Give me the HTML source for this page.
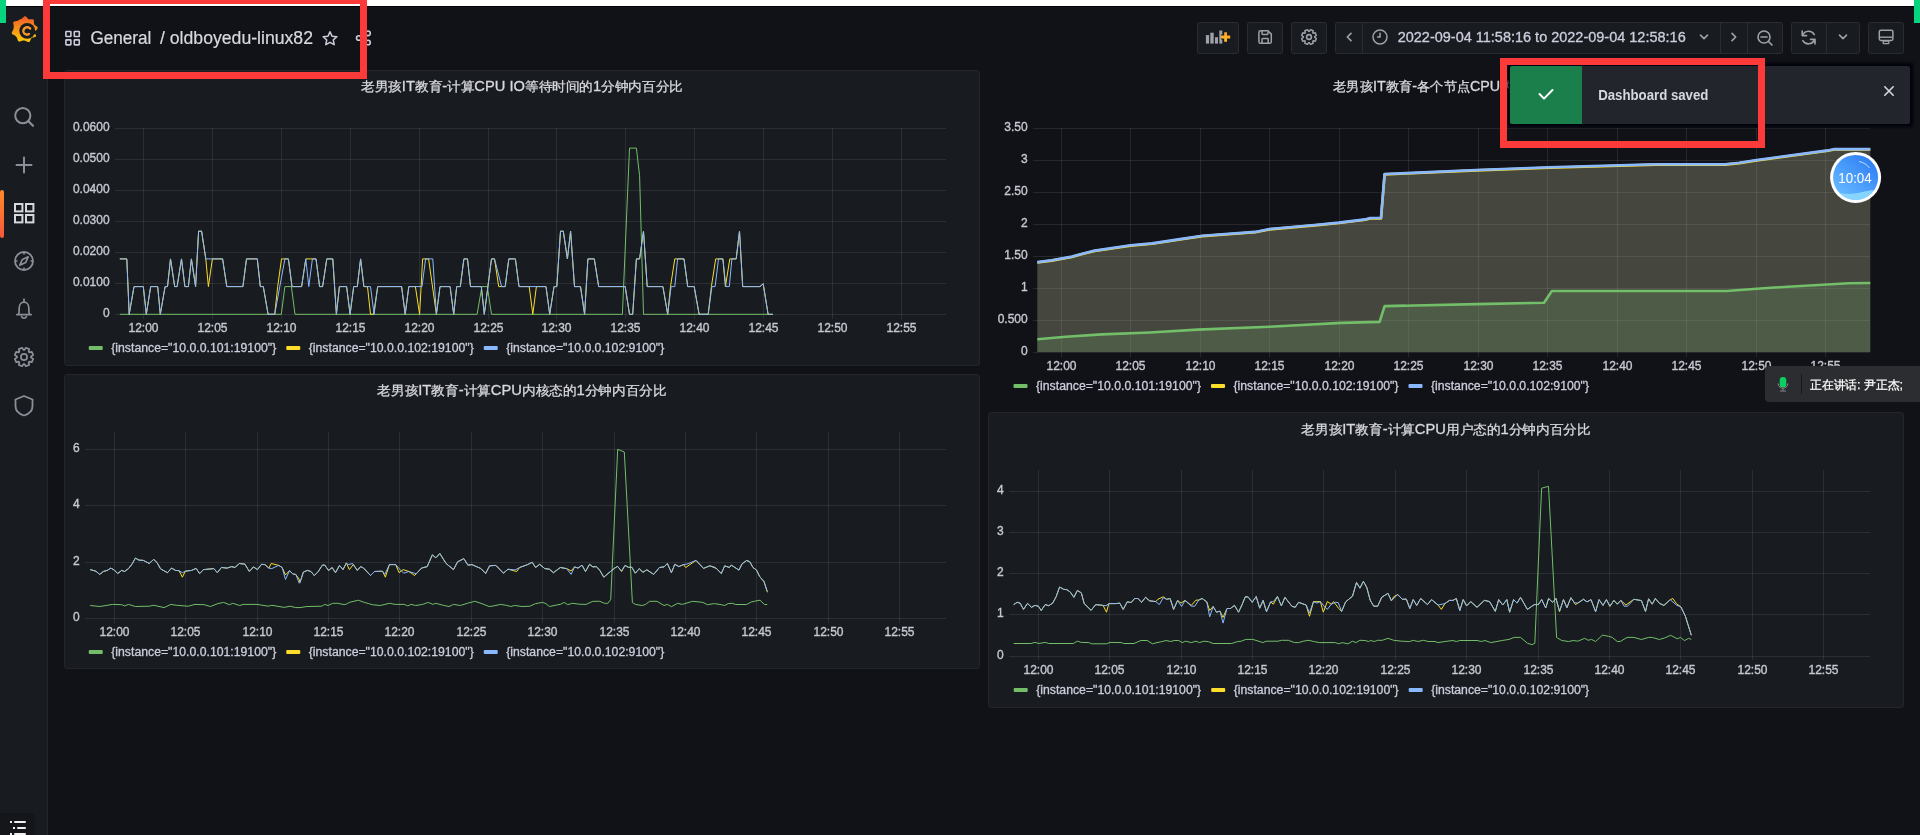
<!DOCTYPE html><html><head><meta charset="utf-8"><style>
html,body{margin:0;padding:0;background:#111217;width:1920px;height:835px;overflow:hidden;font-family:"Liberation Sans",sans-serif;}
.abs{position:absolute;}
svg{position:absolute;left:0;top:0;overflow:visible;will-change:transform}
svg text{font-family:"Liberation Sans",sans-serif}
</style></head><body>
<div class="abs" style="left:0;top:0;width:47px;height:835px;background:#181b1f;border-right:1px solid #24262c"></div>
<svg width="47" height="835" viewBox="0 0 47 835" style="left:0;top:0"><defs><linearGradient id="glogo" x1="0" y1="0" x2="0" y2="1">
<stop offset="0" stop-color="#f05a28"/><stop offset="1" stop-color="#fbca0a"/></linearGradient>
<linearGradient id="actbar" x1="0" y1="0" x2="0" y2="1"><stop offset="0" stop-color="#ff8a2a"/><stop offset="1" stop-color="#f5583a"/></linearGradient></defs><path d="M13.29,29.50 L13.37,29.21 L13.43,28.92 L13.48,28.63 L13.53,28.35 L13.58,28.06 L13.62,27.78 L13.66,27.49 L13.70,27.20 L13.73,26.92 L13.76,26.62 L13.78,26.32 L13.77,26.02 L13.75,25.69 L13.70,25.35 L13.63,25.00 L13.53,24.62 L13.43,24.22 L13.33,23.81 L13.26,23.40 L13.23,22.99 L13.26,22.61 L13.36,22.27 L13.54,21.97 L13.80,21.73 L14.12,21.54 L14.50,21.40 L14.90,21.30 L15.32,21.23 L15.73,21.18 L16.12,21.12 L16.49,21.06 L16.83,20.99 L17.15,20.90 L17.44,20.79 L17.72,20.67 L17.98,20.53 L18.24,20.39 L18.49,20.25 L18.74,20.11 L19.00,19.97 L19.25,19.83 L19.51,19.70 L19.76,19.57 L20.02,19.45 L20.29,19.33 L20.55,19.21 L20.82,19.10 L21.08,18.98 L21.35,18.86 L21.61,18.72 L21.88,18.57 L22.14,18.39 L22.40,18.18 L22.67,17.94 L22.94,17.68 L23.23,17.39 L23.52,17.09 L23.83,16.81 L24.16,16.56 L24.50,16.36 L24.85,16.25 L25.20,16.22 L25.54,16.28 L25.87,16.44 L26.19,16.67 L26.49,16.95 L26.77,17.26 L27.03,17.59 L27.28,17.90 L27.53,18.20 L27.77,18.46 L28.01,18.70 L28.25,18.90 L28.50,19.08 L28.75,19.25 L29.04,19.31 L29.34,19.35 L29.66,19.38 L29.99,19.38 L30.35,19.37 L30.73,19.33 L31.13,19.29 L31.55,19.24 L31.97,19.22 L32.38,19.23 L32.77,19.29 L33.11,19.42 L33.40,19.62 L33.63,19.88 L33.79,20.21 L33.89,20.59 L33.94,21.00 L33.96,21.42 L33.96,21.84 L33.96,22.24 L33.97,22.62 L33.99,22.98 L34.03,23.31 L34.09,23.63 L34.16,23.92 L34.25,24.20 L34.40,24.45 L34.59,24.69 L34.80,24.91 L35.04,25.14 L35.30,25.35 L35.60,25.57 L35.92,25.79 L36.26,26.02 L36.61,26.26 L36.94,26.51 L37.23,26.79 L37.46,27.10 L37.62,27.42 L37.68,27.76 L37.65,28.12 L37.54,28.47 L37.35,28.83 L37.12,29.17 L36.86,29.50 L36.59,29.82 L36.33,30.12 L36.10,30.41 L35.89,30.70 L35.72,30.98 L35.57,31.25 L35.45,31.53 L35.37,31.81 L35.37,32.11 L35.39,32.42 L35.44,32.74 L35.50,33.08 L35.60,33.43 L35.71,33.80 L35.83,34.19 L35.95,34.60 L36.05,35.01 L36.10,35.41 L36.09,35.79 L36.00,36.14 L35.84,36.45 L35.59,36.70 L35.28,36.91 L34.91,37.07 L34.51,37.18 L34.10,37.28 L33.69,37.35 L33.30,37.43 L32.94,37.51 L32.60,37.60 L32.29,37.71 L32.00,37.83 L31.73,37.97 L31.50,38.14 L31.31,38.37 L31.13,38.62 L30.96,38.90 L30.80,39.20 L30.65,39.54 L30.50,39.90 L30.35,40.28 L30.19,40.67 L30.01,41.05 L29.79,41.39 L29.55,41.68 L29.26,41.90 L28.94,42.03 L28.59,42.08 L28.21,42.04 L27.83,41.93 L27.45,41.77 L27.07,41.59 L26.70,41.39 L26.35,41.20 L26.02,41.03 L25.70,40.89 L25.39,40.78 L25.09,40.70 L24.79,40.63 L24.50,40.58 L24.21,40.55 L23.92,40.51 L23.63,40.52 L23.34,40.52 L23.05,40.54 L22.75,40.57 L22.44,40.63 L22.12,40.70 L21.78,40.81 L21.43,40.94 L21.07,41.09 L20.68,41.25 L20.29,41.40 L19.89,41.52 L19.50,41.58 L19.12,41.58 L18.78,41.50 L18.47,41.33 L18.21,41.09 L17.99,40.77 L17.82,40.41 L17.67,40.01 L17.55,39.61 L17.44,39.21 L17.33,38.84 L17.22,38.49 L17.09,38.17 L16.95,37.88 L16.80,37.61 L16.64,37.36 L16.47,37.12 L16.29,36.89 L16.12,36.66 L15.92,36.45 L15.72,36.24 L15.51,36.03 L15.28,35.83 L15.04,35.64 L14.78,35.46 L14.48,35.28 L14.16,35.12 L13.80,34.95 L13.43,34.78 L13.05,34.60 L12.68,34.39 L12.35,34.16 L12.07,33.90 L11.87,33.60 L11.75,33.28 L11.73,32.92 L11.78,32.55 L11.91,32.18 L12.09,31.80 L12.30,31.43 L12.51,31.08 L12.72,30.74 L12.90,30.41 L13.06,30.10 L13.19,29.80Z" fill="url(#glogo)"/><circle cx="27.2" cy="30.8" r="7.9" fill="#181b1f"/><path d="M27.20,30.80 L41.20,30.80 L41.18,31.53 L41.12,32.26 L41.03,32.99 L40.89,33.71 L40.72,34.42 L40.51,35.13 L40.27,35.82 L39.99,36.49Z" fill="#181b1f"/><path d="M30.16,28.53 L29.84,28.21 L29.48,27.93 L29.10,27.69 L28.69,27.50 L28.26,27.35 L27.83,27.26 L27.38,27.22 L26.94,27.22 L26.50,27.28 L26.07,27.39 L25.66,27.55 L25.27,27.75 L24.91,27.99 L24.58,28.27 L24.28,28.59 L24.03,28.93 L23.81,29.30 L23.64,29.70 L23.52,30.10 L23.45,30.52 L23.42,30.94 L23.44,31.36 L23.51,31.78 L23.62,32.18 L23.78,32.56 L23.98,32.92 L24.22,33.26 L24.50,33.56 L24.81,33.83 L25.14,34.06 L25.50,34.25 L25.87,34.40 L26.26,34.50 L26.66,34.56 L27.05,34.57 L27.45,34.54 L27.84,34.47 L28.21,34.35 L28.57,34.18 L28.90,33.98" fill="none" stroke="#f9962a" stroke-width="2.4" stroke-linecap="round"/><circle cx="22.8" cy="115.6" r="7.6" fill="none" stroke="#8e8e99" stroke-width="2"/><path d="M28.4,121.2 L33,125.8" stroke="#8e8e99" stroke-width="2.2" stroke-linecap="round"/><path d="M24,157.5 V172.5 M16.5,165 H31.5" stroke="#8e8e99" stroke-width="2" stroke-linecap="round"/><rect x="0" y="190" width="4" height="48" rx="2" fill="url(#actbar)"/><rect x="15" y="204" width="7.4" height="7.4" fill="none" stroke="#d8d9e0" stroke-width="2"/><rect x="26" y="204" width="7.4" height="7.4" fill="none" stroke="#d8d9e0" stroke-width="2"/><rect x="15" y="215" width="7.4" height="7.4" fill="none" stroke="#d8d9e0" stroke-width="2"/><rect x="26" y="215" width="7.4" height="7.4" fill="none" stroke="#d8d9e0" stroke-width="2"/><circle cx="24" cy="261" r="9" fill="none" stroke="#8e8e99" stroke-width="1.8"/><path d="M24,252 V254.5 M24,267.5 V270 M15,261 H17.5 M30.5,261 H33" stroke="#8e8e99" stroke-width="1.6"/><path d="M28.2,256.8 L25.6,262.6 L19.8,265.2 L22.4,259.4 Z" fill="none" stroke="#8e8e99" stroke-width="1.6" stroke-linejoin="round"/><path d="M16.8,314.6 H31.2 M18.6,314.4 C19.2,312.8 19.2,310 19.2,307.8 C19.2,304.4 21.4,302.2 24,302.2 C26.6,302.2 28.8,304.4 28.8,307.8 C28.8,310 28.8,312.8 29.4,314.4 M24,299.2 V302 M21.6,316.6 A2.5,2.3 0 0 0 26.4,316.6" fill="none" stroke="#8e8e99" stroke-width="1.7" stroke-linecap="round" stroke-linejoin="round"/><path d="M30.99,357.43 L33.21,358.87 L31.84,362.19 L29.24,361.64 L28.64,362.24 L29.19,364.84 L25.87,366.21 L24.43,363.99 L23.57,363.99 L22.13,366.21 L18.81,364.84 L19.36,362.24 L18.76,361.64 L16.16,362.19 L14.79,358.87 L17.01,357.43 L17.01,356.57 L14.79,355.13 L16.16,351.81 L18.76,352.36 L19.36,351.76 L18.81,349.16 L22.13,347.79 L23.57,350.01 L24.43,350.01 L25.87,347.79 L29.19,349.16 L28.64,351.76 L29.24,352.36 L31.84,351.81 L33.21,355.13 L30.99,356.57Z" fill="none" stroke="#8e8e99" stroke-width="1.7" stroke-linejoin="round"/><circle cx="24" cy="357" r="3.1" fill="none" stroke="#8e8e99" stroke-width="1.7"/><path d="M24,396 L32.5,399.5 V406 C32.5,411 29,414 24,415.5 C19,414 15.5,411 15.5,406 V399.5 Z" fill="none" stroke="#8e8e99" stroke-width="1.8" stroke-linejoin="round"/><rect x="-4" y="813" width="39" height="30" rx="3" fill="#141619"/><rect x="10" y="821" width="2" height="2" fill="#f0f0f0"/><rect x="14" y="821" width="12" height="2" rx="1" fill="#f0f0f0"/><rect x="13" y="827" width="2" height="2" fill="#f0f0f0"/><rect x="17" y="827" width="9" height="2" rx="1" fill="#f0f0f0"/><rect x="10" y="833" width="2" height="2" fill="#f0f0f0"/><rect x="14" y="833" width="12" height="2" rx="1" fill="#f0f0f0"/></svg>
<svg width="1920" height="80" viewBox="0 0 1920 80" style="left:0;top:0"><rect x="65.9" y="31.5" width="5.0" height="5.0" rx="0.6" fill="none" stroke="#ccccdc" stroke-width="1.6"/><rect x="74.30000000000001" y="31.5" width="5.0" height="5.0" rx="0.6" fill="none" stroke="#ccccdc" stroke-width="1.6"/><rect x="65.9" y="39.9" width="5.0" height="5.0" rx="0.6" fill="none" stroke="#ccccdc" stroke-width="1.6"/><rect x="74.30000000000001" y="39.9" width="5.0" height="5.0" rx="0.6" fill="none" stroke="#ccccdc" stroke-width="1.6"/><text x="90.4" y="43.8" font-size="18" fill="#d8d9e0" text-anchor="start" font-weight="normal" textLength="61" lengthAdjust="spacingAndGlyphs" stroke="#d8d9e0" stroke-width="0.2">General</text><text x="160" y="43.8" font-size="18" fill="#d8d9e0" text-anchor="start" font-weight="normal" textLength="153" lengthAdjust="spacingAndGlyphs" stroke="#d8d9e0" stroke-width="0.2">/ oldboyedu-linux82</text><path d="M330.00,31.70 L332.00,36.15 L336.85,36.68 L333.23,39.95 L334.23,44.72 L330.00,42.30 L325.77,44.72 L326.77,39.95 L323.15,36.68 L328.00,36.15Z" fill="none" stroke="#ccccdc" stroke-width="1.5" stroke-linejoin="round"/><g fill="none" stroke="#ccccdc" stroke-width="1.6"><circle cx="358.8" cy="38" r="2.3"/><circle cx="368" cy="33.3" r="2.3"/><circle cx="368" cy="42.5" r="2.3"/><path d="M360.8,36.8 L366,34.4 M360.8,39.2 L366,41.4"/></g><rect x="1197.5" y="22.5" width="41" height="31" rx="2" fill="#181b1f" stroke="#2a2c31" stroke-width="1"/><rect x="1205.9" y="35.1" width="3.199999999999818" height="8.5" fill="#9fa0aa"/><rect x="1210.3" y="32.7" width="3.400000000000091" height="10.9" fill="#9fa0aa"/><rect x="1215" y="37.2" width="3" height="6.4" fill="#9fa0aa"/><rect x="1219.3" y="30.5" width="3.0" height="13.1" fill="#9fa0aa"/><defs><linearGradient id="plg" x1="0" y1="0" x2="0" y2="1"><stop offset="0" stop-color="#ff9a2e"/><stop offset="1" stop-color="#ffc21a"/></linearGradient></defs><path d="M1225.6,32.3 V41.8 M1221,37 H1230.2" stroke="#181b1f" stroke-width="5"/><path d="M1225.6,32.3 V41.8 M1221,37 H1230.2" stroke="url(#plg)" stroke-width="2.8"/><rect x="1247.5" y="22.5" width="35" height="31" rx="2" fill="#181b1f" stroke="#2a2c31" stroke-width="1"/><path d="M1260.5,30.8 H1268 L1271.3,34.1 V41.7 A1.6,1.6 0 0 1 1269.7,43.3 H1260.5 A1.6,1.6 0 0 1 1258.9,41.7 V32.4 A1.6,1.6 0 0 1 1260.5,30.8 Z" fill="none" stroke="#9fa0aa" stroke-width="1.5" stroke-linejoin="round"/><path d="M1262,31 V33.6 A0.8,0.8 0 0 0 1262.8,34.4 H1267.2 A0.8,0.8 0 0 0 1268,33.6 V31.5 M1262,43 V39.2 A0.8,0.8 0 0 1 1262.8,38.4 H1267.4 A0.8,0.8 0 0 1 1268.2,39.2 V43" fill="none" stroke="#9fa0aa" stroke-width="1.5"/><rect x="1291.5" y="22.5" width="35" height="31" rx="2" fill="#181b1f" stroke="#2a2c31" stroke-width="1"/><path d="M1314.69,37.35 L1316.35,38.50 L1315.25,41.14 L1313.27,40.78 L1312.78,41.27 L1313.14,43.25 L1310.50,44.35 L1309.35,42.69 L1308.65,42.69 L1307.50,44.35 L1304.86,43.25 L1305.22,41.27 L1304.73,40.78 L1302.75,41.14 L1301.65,38.50 L1303.31,37.35 L1303.31,36.65 L1301.65,35.50 L1302.75,32.86 L1304.73,33.22 L1305.22,32.73 L1304.86,30.75 L1307.50,29.65 L1308.65,31.31 L1309.35,31.31 L1310.50,29.65 L1313.14,30.75 L1312.78,32.73 L1313.27,33.22 L1315.25,32.86 L1316.35,35.50 L1314.69,36.65Z" fill="none" stroke="#9fa0aa" stroke-width="1.5" stroke-linejoin="round"/><circle cx="1309" cy="37" r="2.4" fill="none" stroke="#9fa0aa" stroke-width="1.6"/><rect x="1335.5" y="22.5" width="447" height="31" rx="2" fill="#181b1f" stroke="#2a2c31" stroke-width="1"/><path d="M1362.5,23 V53" stroke="#2a2c31" stroke-width="1"/><path d="M1720.5,23 V53" stroke="#2a2c31" stroke-width="1"/><path d="M1747.5,23 V53" stroke="#2a2c31" stroke-width="1"/><path d="M1351,33.3 L1347.3,37 L1351,40.7" fill="none" stroke="#9fa0aa" stroke-width="1.7" stroke-linecap="round" stroke-linejoin="round"/><circle cx="1380" cy="37" r="7" fill="none" stroke="#9fa0aa" stroke-width="1.5"/><path d="M1380,33.4 V37 H1377.6" fill="none" stroke="#9fa0aa" stroke-width="1.6" stroke-linecap="round"/><text x="1397.7" y="42.2" font-size="14" fill="#ccccdc" text-anchor="start" font-weight="normal" textLength="288" lengthAdjust="spacingAndGlyphs" stroke="#ccccdc" stroke-width="0.3">2022-09-04 11:58:16 to 2022-09-04 12:58:16</text><path d="M1700.5,35.1 L1704,38.6 L1707.5,35.1" fill="none" stroke="#9fa0aa" stroke-width="1.6" stroke-linecap="round" stroke-linejoin="round"/><path d="M1732,33.3 L1735.7,37 L1732,40.7" fill="none" stroke="#9fa0aa" stroke-width="1.7" stroke-linecap="round" stroke-linejoin="round"/><circle cx="1764" cy="37" r="6" fill="none" stroke="#9fa0aa" stroke-width="1.6"/><path d="M1761,37 H1767 M1768.5,41.5 L1772,45" stroke="#9fa0aa" stroke-width="1.7" stroke-linecap="round"/><rect x="1791.5" y="22.5" width="68" height="31" rx="2" fill="#181b1f" stroke="#2a2c31" stroke-width="1"/><path d="M1826.5,23 V53" stroke="#2a2c31" stroke-width="1"/><path d="M1814.3,34.6 A6.5,6.5 0 0 0 1802.6,35.4 M1802.8,40.6 A6.5,6.5 0 0 0 1814.5,39.6 M1802.2,31 V35.6 H1806.6 M1815,44 V39.4 H1810.6" fill="none" stroke="#9fa0aa" stroke-width="1.6" stroke-linecap="round" stroke-linejoin="round"/><path d="M1839.5,35.1 L1843,38.6 L1846.5,35.1" fill="none" stroke="#9fa0aa" stroke-width="1.6" stroke-linecap="round" stroke-linejoin="round"/><rect x="1868.5" y="22.5" width="35" height="31" rx="2" fill="#181b1f" stroke="#2a2c31" stroke-width="1"/><rect x="1879.3" y="30.2" width="13.6" height="10.2" rx="1.6" fill="none" stroke="#9fa0aa" stroke-width="1.5"/><path d="M1879.5,37.2 H1892.5" stroke="#9fa0aa" stroke-width="1.4"/><rect x="1883.2" y="41" width="5.6" height="2.6" rx="0.6" fill="none" stroke="#9fa0aa" stroke-width="1.3"/></svg>
<div class="abs" style="left:64px;top:70px;width:914px;height:294px;background:#181b1f;border:1px solid #23252b;border-radius:3px"></div>
<div class="abs" style="left:64px;top:374px;width:914px;height:293px;background:#181b1f;border:1px solid #23252b;border-radius:3px"></div>
<div class="abs" style="left:988px;top:412px;width:914px;height:294px;background:#181b1f;border:1px solid #23252b;border-radius:3px"></div>
<svg width="1920" height="835" viewBox="0 0 1920 835" style="left:0;top:0"><text x="522" y="91" font-size="14" fill="#d8d9e0" text-anchor="middle" font-weight="normal" textLength="322" lengthAdjust="spacingAndGlyphs" stroke="#d8d9e0" stroke-width="0.3"><tspan font-size="12.6">老男孩</tspan>IT<tspan font-size="12.6">教育</tspan>-<tspan font-size="12.6">计算</tspan>CPU IO<tspan font-size="12.6">等待时间的</tspan>1<tspan font-size="12.6">分钟内百分比</tspan></text><path d="M115,128.5 H946" stroke="rgba(240,250,255,0.09)" stroke-width="1"/><text x="109.6" y="131.1" font-size="12" fill="#c7c8d2" text-anchor="end" font-weight="normal" stroke="#c7c8d2" stroke-width="0.35">0.0600</text><path d="M115,159.5 H946" stroke="rgba(240,250,255,0.09)" stroke-width="1"/><text x="109.6" y="162.1" font-size="12" fill="#c7c8d2" text-anchor="end" font-weight="normal" stroke="#c7c8d2" stroke-width="0.35">0.0500</text><path d="M115,190.5 H946" stroke="rgba(240,250,255,0.09)" stroke-width="1"/><text x="109.6" y="193.1" font-size="12" fill="#c7c8d2" text-anchor="end" font-weight="normal" stroke="#c7c8d2" stroke-width="0.35">0.0400</text><path d="M115,221.5 H946" stroke="rgba(240,250,255,0.09)" stroke-width="1"/><text x="109.6" y="224.1" font-size="12" fill="#c7c8d2" text-anchor="end" font-weight="normal" stroke="#c7c8d2" stroke-width="0.35">0.0300</text><path d="M115,252.5 H946" stroke="rgba(240,250,255,0.09)" stroke-width="1"/><text x="109.6" y="255.1" font-size="12" fill="#c7c8d2" text-anchor="end" font-weight="normal" stroke="#c7c8d2" stroke-width="0.35">0.0200</text><path d="M115,283.5 H946" stroke="rgba(240,250,255,0.09)" stroke-width="1"/><text x="109.6" y="286.1" font-size="12" fill="#c7c8d2" text-anchor="end" font-weight="normal" stroke="#c7c8d2" stroke-width="0.35">0.0100</text><path d="M115,314.5 H946" stroke="rgba(240,250,255,0.09)" stroke-width="1"/><text x="109.6" y="317.1" font-size="12" fill="#c7c8d2" text-anchor="end" font-weight="normal" stroke="#c7c8d2" stroke-width="0.35">0</text><path d="M143.5,128 V319" stroke="rgba(240,250,255,0.09)" stroke-width="1"/><text x="143.5" y="332" font-size="12" fill="#c7c8d2" text-anchor="middle" font-weight="normal" stroke="#c7c8d2" stroke-width="0.35">12:00</text><path d="M212.5,128 V319" stroke="rgba(240,250,255,0.09)" stroke-width="1"/><text x="212.5" y="332" font-size="12" fill="#c7c8d2" text-anchor="middle" font-weight="normal" stroke="#c7c8d2" stroke-width="0.35">12:05</text><path d="M281.5,128 V319" stroke="rgba(240,250,255,0.09)" stroke-width="1"/><text x="281.5" y="332" font-size="12" fill="#c7c8d2" text-anchor="middle" font-weight="normal" stroke="#c7c8d2" stroke-width="0.35">12:10</text><path d="M350.5,128 V319" stroke="rgba(240,250,255,0.09)" stroke-width="1"/><text x="350.5" y="332" font-size="12" fill="#c7c8d2" text-anchor="middle" font-weight="normal" stroke="#c7c8d2" stroke-width="0.35">12:15</text><path d="M419.5,128 V319" stroke="rgba(240,250,255,0.09)" stroke-width="1"/><text x="419.5" y="332" font-size="12" fill="#c7c8d2" text-anchor="middle" font-weight="normal" stroke="#c7c8d2" stroke-width="0.35">12:20</text><path d="M488.5,128 V319" stroke="rgba(240,250,255,0.09)" stroke-width="1"/><text x="488.5" y="332" font-size="12" fill="#c7c8d2" text-anchor="middle" font-weight="normal" stroke="#c7c8d2" stroke-width="0.35">12:25</text><path d="M556.5,128 V319" stroke="rgba(240,250,255,0.09)" stroke-width="1"/><text x="556.5" y="332" font-size="12" fill="#c7c8d2" text-anchor="middle" font-weight="normal" stroke="#c7c8d2" stroke-width="0.35">12:30</text><path d="M625.5,128 V319" stroke="rgba(240,250,255,0.09)" stroke-width="1"/><text x="625.5" y="332" font-size="12" fill="#c7c8d2" text-anchor="middle" font-weight="normal" stroke="#c7c8d2" stroke-width="0.35">12:35</text><path d="M694.5,128 V319" stroke="rgba(240,250,255,0.09)" stroke-width="1"/><text x="694.5" y="332" font-size="12" fill="#c7c8d2" text-anchor="middle" font-weight="normal" stroke="#c7c8d2" stroke-width="0.35">12:40</text><path d="M763.5,128 V319" stroke="rgba(240,250,255,0.09)" stroke-width="1"/><text x="763.5" y="332" font-size="12" fill="#c7c8d2" text-anchor="middle" font-weight="normal" stroke="#c7c8d2" stroke-width="0.35">12:45</text><path d="M832.5,128 V319" stroke="rgba(240,250,255,0.09)" stroke-width="1"/><text x="832.5" y="332" font-size="12" fill="#c7c8d2" text-anchor="middle" font-weight="normal" stroke="#c7c8d2" stroke-width="0.35">12:50</text><path d="M901.5,128 V319" stroke="rgba(240,250,255,0.09)" stroke-width="1"/><text x="901.5" y="332" font-size="12" fill="#c7c8d2" text-anchor="middle" font-weight="normal" stroke="#c7c8d2" stroke-width="0.35">12:55</text><g fill="none" stroke-width="1" stroke-linejoin="round"><path d="M119.8,314.3 L281.3,314.3 L284.9,286.6 L291.4,286.6 L295.0,314.3 L477.1,314.3 L481.9,286.6 L487.3,286.6 L491.5,314.3 L622.4,314.3 L629.5,148.1 L636.4,148.1 L639.6,175.8 L643.5,314.3 L768.1,314.3" stroke="#73bf69"/><path d="M119.8,258.9 L126.8,258.9 L129.2,314.3 L134.0,286.6 L143.3,286.6 L146.3,314.3 L150.7,286.6 L157.7,286.6 L160.3,314.3 L165.1,286.6 L167.5,286.6 L170.5,258.9 L174.7,286.6 L177.1,286.6 L181.5,258.9 L184.9,286.6 L188.4,286.6 L191.4,258.9 L195.6,286.6 L198.6,231.2 L201.6,231.2 L205.8,258.9 L208.4,286.6 L212.4,258.9 L222.6,258.9 L226.8,286.6 L242.9,286.6 L246.5,258.9 L257.3,258.9 L260.3,286.6 L263.3,286.6 L268.1,314.3 L274.7,314.3 L277.7,286.6 L281.5,258.9 L284.9,258.9 L288.4,258.9 L292.0,286.6 L301.6,286.6 L305.8,258.9 L312.4,258.9 L316.0,258.9 L319.6,286.6 L322.6,286.6 L326.8,258.9 L332.8,258.9 L336.4,314.3 L339.4,286.6 L346.6,286.6 L350.1,314.3 L353.7,286.6 L357.3,286.6 L360.6,258.9 L363.9,286.6 L367.5,286.6 L370.5,314.3 L373.5,314.3 L377.7,286.6 L401.6,286.6 L405.2,314.3 L408.8,286.6 L415.4,286.6 L419.6,314.3 L422.6,258.9 L428.6,258.9 L436.4,314.3 L440.0,286.6 L450.1,286.6 L453.7,314.3 L456.7,286.6 L460.3,286.6 L463.9,258.9 L467.5,258.9 L470.5,286.6 L481.3,286.6 L484.3,314.3 L491.5,258.9 L494.5,258.9 L498.7,286.6 L501.6,286.6 L505.2,286.6 L508.8,258.9 L515.4,258.9 L519.0,286.6 L529.2,286.6 L532.8,314.3 L536.4,286.6 L546.0,286.6 L549.7,314.3 L554.0,286.6 L556.8,286.6 L560.5,231.2 L563.3,231.2 L567.4,258.9 L570.6,231.2 L574.5,286.6 L580.5,286.6 L584.6,314.3 L587.9,258.9 L594.3,258.9 L598.7,286.6 L625.2,286.6 L629.5,314.3 L632.7,314.3 L636.4,258.9 L639.6,258.9 L643.5,231.2 L647.2,286.6 L662.9,286.6 L667.7,314.3 L670.5,286.6 L674.8,258.9 L684.0,258.9 L687.7,286.6 L694.2,286.6 L699.1,314.3 L708.2,314.3 L711.4,286.6 L715.7,258.9 L722.9,258.9 L725.4,286.6 L729.8,258.9 L736.2,258.9 L739.5,231.2 L742.7,286.6 L759.9,286.6 L763.2,283.8 L768.1,314.3 L772.9,314.3" stroke="#fade2a"/><path d="M119.8,258.9 L126.8,258.9 L129.2,314.3 L134.0,286.6 L143.3,286.6 L146.3,314.3 L150.7,286.6 L157.7,286.6 L160.3,314.3 L165.1,286.6 L167.5,286.6 L170.5,258.9 L174.7,286.6 L177.1,286.6 L181.5,258.9 L184.9,286.6 L188.4,286.6 L191.4,258.9 L195.6,286.6 L198.6,231.2 L201.6,231.2 L205.8,258.9 L222.6,258.9 L226.8,286.6 L242.9,286.6 L246.5,258.9 L257.3,258.9 L260.3,286.6 L263.3,286.6 L268.1,314.3 L274.7,314.3 L284.9,258.9 L288.4,258.9 L292.0,286.6 L301.6,286.6 L305.8,258.9 L308.8,286.6 L312.4,258.9 L316.0,258.9 L319.6,286.6 L322.6,286.6 L326.8,258.9 L332.8,258.9 L336.4,314.3 L339.4,286.6 L346.6,286.6 L350.1,314.3 L353.7,286.6 L357.3,286.6 L360.6,258.9 L363.9,286.6 L370.5,286.6 L374.1,314.3 L377.7,286.6 L401.6,286.6 L405.2,314.3 L408.8,286.6 L422.0,286.6 L425.6,258.9 L432.8,258.9 L436.4,314.3 L440.0,286.6 L450.1,286.6 L453.7,314.3 L456.7,286.6 L460.3,286.6 L463.9,258.9 L467.5,258.9 L470.5,286.6 L481.3,286.6 L484.3,314.3 L491.5,258.9 L494.5,258.9 L501.6,286.6 L505.2,286.6 L508.8,258.9 L515.4,258.9 L519.0,286.6 L546.0,286.6 L549.7,314.3 L554.0,286.6 L556.8,286.6 L560.5,231.2 L563.3,231.2 L567.4,258.9 L570.6,231.2 L574.5,286.6 L580.5,286.6 L584.6,314.3 L587.9,258.9 L594.3,258.9 L598.7,286.6 L625.2,286.6 L629.5,314.3 L632.7,314.3 L636.4,258.9 L639.6,258.9 L643.5,231.2 L647.2,286.6 L662.9,286.6 L667.7,314.3 L671.1,286.6 L674.8,286.6 L677.6,258.9 L684.0,258.9 L687.7,286.6 L694.2,286.6 L699.1,314.3 L708.2,314.3 L711.9,286.6 L715.1,286.6 L718.5,258.9 L722.9,258.9 L725.9,286.6 L729.3,286.6 L731.9,258.9 L736.2,258.9 L739.5,231.2 L742.7,286.6 L759.9,286.6 L763.2,283.8 L768.1,314.3 L772.9,314.3" stroke="#8ab8ff"/></g><rect x="88.75" y="346" width="14" height="4" rx="1" fill="#73bf69"/><text x="111.25" y="352.0" font-size="12" fill="#ccccdc" text-anchor="start" font-weight="normal" textLength="165" lengthAdjust="spacingAndGlyphs" stroke="#ccccdc" stroke-width="0.3">{instance=&quot;10.0.0.101:19100&quot;}</text><rect x="286.25" y="346" width="14" height="4" rx="1" fill="#fade2a"/><text x="308.75" y="352.0" font-size="12" fill="#ccccdc" text-anchor="start" font-weight="normal" textLength="165" lengthAdjust="spacingAndGlyphs" stroke="#ccccdc" stroke-width="0.3">{instance=&quot;10.0.0.102:19100&quot;}</text><rect x="483.75" y="346" width="14" height="4" rx="1" fill="#8ab8ff"/><text x="506.25" y="352.0" font-size="12" fill="#ccccdc" text-anchor="start" font-weight="normal" textLength="158" lengthAdjust="spacingAndGlyphs" stroke="#ccccdc" stroke-width="0.3">{instance=&quot;10.0.0.102:9100&quot;}</text></svg>
<svg width="1920" height="835" viewBox="0 0 1920 835" style="left:0;top:0"><text x="1333.2" y="91" font-size="14" fill="#d8d9e0" text-anchor="start" font-weight="normal" textLength="167" lengthAdjust="spacingAndGlyphs" stroke="#d8d9e0" stroke-width="0.3"><tspan font-size="12.6">老男孩</tspan>IT<tspan font-size="12.6">教育</tspan>-<tspan font-size="12.6">各个节点</tspan>CPU</text><text x="1500.2" y="91" font-size="14" fill="#d8d9e0" text-anchor="start" font-weight="normal" stroke="#d8d9e0" stroke-width="0.3"><tspan font-size="12.6">的</tspan>1<tspan font-size="12.6">分钟负载</tspan></text><path d="M1033,128.5 H1870" stroke="rgba(240,250,255,0.09)" stroke-width="1"/><text x="1027.7" y="131.1" font-size="12" fill="#c7c8d2" text-anchor="end" font-weight="normal" stroke="#c7c8d2" stroke-width="0.35">3.50</text><path d="M1033,160.5 H1870" stroke="rgba(240,250,255,0.09)" stroke-width="1"/><text x="1027.7" y="163.1" font-size="12" fill="#c7c8d2" text-anchor="end" font-weight="normal" stroke="#c7c8d2" stroke-width="0.35">3</text><path d="M1033,192.5 H1870" stroke="rgba(240,250,255,0.09)" stroke-width="1"/><text x="1027.7" y="195.1" font-size="12" fill="#c7c8d2" text-anchor="end" font-weight="normal" stroke="#c7c8d2" stroke-width="0.35">2.50</text><path d="M1033,224.5 H1870" stroke="rgba(240,250,255,0.09)" stroke-width="1"/><text x="1027.7" y="227.1" font-size="12" fill="#c7c8d2" text-anchor="end" font-weight="normal" stroke="#c7c8d2" stroke-width="0.35">2</text><path d="M1033,256.5 H1870" stroke="rgba(240,250,255,0.09)" stroke-width="1"/><text x="1027.7" y="259.1" font-size="12" fill="#c7c8d2" text-anchor="end" font-weight="normal" stroke="#c7c8d2" stroke-width="0.35">1.50</text><path d="M1033,288.5 H1870" stroke="rgba(240,250,255,0.09)" stroke-width="1"/><text x="1027.7" y="291.1" font-size="12" fill="#c7c8d2" text-anchor="end" font-weight="normal" stroke="#c7c8d2" stroke-width="0.35">1</text><path d="M1033,320.5 H1870" stroke="rgba(240,250,255,0.09)" stroke-width="1"/><text x="1027.7" y="323.1" font-size="12" fill="#c7c8d2" text-anchor="end" font-weight="normal" stroke="#c7c8d2" stroke-width="0.35">0.500</text><path d="M1033,352.5 H1870" stroke="rgba(240,250,255,0.09)" stroke-width="1"/><text x="1027.7" y="355.1" font-size="12" fill="#c7c8d2" text-anchor="end" font-weight="normal" stroke="#c7c8d2" stroke-width="0.35">0</text><path d="M1061.5,128 V357" stroke="rgba(240,250,255,0.09)" stroke-width="1"/><text x="1061.5" y="370" font-size="12" fill="#c7c8d2" text-anchor="middle" font-weight="normal" stroke="#c7c8d2" stroke-width="0.35">12:00</text><path d="M1130.5,128 V357" stroke="rgba(240,250,255,0.09)" stroke-width="1"/><text x="1130.5" y="370" font-size="12" fill="#c7c8d2" text-anchor="middle" font-weight="normal" stroke="#c7c8d2" stroke-width="0.35">12:05</text><path d="M1200.5,128 V357" stroke="rgba(240,250,255,0.09)" stroke-width="1"/><text x="1200.5" y="370" font-size="12" fill="#c7c8d2" text-anchor="middle" font-weight="normal" stroke="#c7c8d2" stroke-width="0.35">12:10</text><path d="M1269.5,128 V357" stroke="rgba(240,250,255,0.09)" stroke-width="1"/><text x="1269.5" y="370" font-size="12" fill="#c7c8d2" text-anchor="middle" font-weight="normal" stroke="#c7c8d2" stroke-width="0.35">12:15</text><path d="M1339.5,128 V357" stroke="rgba(240,250,255,0.09)" stroke-width="1"/><text x="1339.5" y="370" font-size="12" fill="#c7c8d2" text-anchor="middle" font-weight="normal" stroke="#c7c8d2" stroke-width="0.35">12:20</text><path d="M1408.5,128 V357" stroke="rgba(240,250,255,0.09)" stroke-width="1"/><text x="1408.5" y="370" font-size="12" fill="#c7c8d2" text-anchor="middle" font-weight="normal" stroke="#c7c8d2" stroke-width="0.35">12:25</text><path d="M1478.5,128 V357" stroke="rgba(240,250,255,0.09)" stroke-width="1"/><text x="1478.5" y="370" font-size="12" fill="#c7c8d2" text-anchor="middle" font-weight="normal" stroke="#c7c8d2" stroke-width="0.35">12:30</text><path d="M1547.5,128 V357" stroke="rgba(240,250,255,0.09)" stroke-width="1"/><text x="1547.5" y="370" font-size="12" fill="#c7c8d2" text-anchor="middle" font-weight="normal" stroke="#c7c8d2" stroke-width="0.35">12:35</text><path d="M1617.5,128 V357" stroke="rgba(240,250,255,0.09)" stroke-width="1"/><text x="1617.5" y="370" font-size="12" fill="#c7c8d2" text-anchor="middle" font-weight="normal" stroke="#c7c8d2" stroke-width="0.35">12:40</text><path d="M1686.5,128 V357" stroke="rgba(240,250,255,0.09)" stroke-width="1"/><text x="1686.5" y="370" font-size="12" fill="#c7c8d2" text-anchor="middle" font-weight="normal" stroke="#c7c8d2" stroke-width="0.35">12:45</text><path d="M1756.5,128 V357" stroke="rgba(240,250,255,0.09)" stroke-width="1"/><text x="1756.5" y="370" font-size="12" fill="#c7c8d2" text-anchor="middle" font-weight="normal" stroke="#c7c8d2" stroke-width="0.35">12:50</text><path d="M1825.5,128 V357" stroke="rgba(240,250,255,0.09)" stroke-width="1"/><text x="1825.5" y="370" font-size="12" fill="#c7c8d2" text-anchor="middle" font-weight="normal" stroke="#c7c8d2" stroke-width="0.35">12:55</text><path d="M1037.3,262.1 L1051.6,260.2 L1071.9,256.6 L1080.3,254.2 L1094.7,250.6 L1130.6,245.3 L1152.1,243.4 L1183.3,238.6 L1202.4,235.7 L1255.1,231.9 L1269.5,229.0 L1317.4,224.7 L1338.9,222.6 L1365.3,219.4 L1370.0,218.0 L1381.0,218.0 L1384.6,174.0 L1406.0,173.1 L1476.4,170.0 L1549.3,167.3 L1619.6,165.3 L1656.0,164.2 L1725.0,164.2 L1739.4,162.7 L1755.0,160.3 L1827.9,150.4 L1834.4,149.1 L1870.3,149.1 L1870.3,352 L1037.3,352 Z" fill="rgba(229,226,179,0.25)"/><path d="M1037.3,339.2 L1065.9,336.8 L1101.8,334.4 L1149.7,332.5 L1197.6,329.6 L1269.5,326.7 L1341.3,322.9 L1379.6,321.9 L1384.6,306.1 L1476.4,304.1 L1544.0,302.8 L1551.9,291.0 L1726.4,291.0 L1770.6,287.7 L1848.8,283.2 L1870.3,283.0 L1870.3,352 L1037.3,352 Z" fill="rgba(106,154,98,0.25)"/><g fill="none" stroke-width="2.6" stroke-linejoin="round"><path d="M1037.3,339.2 L1065.9,336.8 L1101.8,334.4 L1149.7,332.5 L1197.6,329.6 L1269.5,326.7 L1341.3,322.9 L1379.6,321.9 L1384.6,306.1 L1476.4,304.1 L1544.0,302.8 L1551.9,291.0 L1726.4,291.0 L1770.6,287.7 L1848.8,283.2 L1870.3,283.0" stroke="#73bf69"/><path d="M1037.3,262.5 L1051.6,260.6 L1071.9,257.0 L1080.3,254.6 L1094.7,251.0 L1130.6,245.7 L1152.1,243.8 L1183.3,239.0 L1202.4,236.1 L1255.1,232.3 L1269.5,229.4 L1317.4,225.1 L1338.9,223.0 L1365.3,219.8 L1370.0,218.4 L1381.0,218.4 L1384.6,174.4 L1406.0,173.5 L1476.4,170.4 L1549.3,167.7 L1619.6,165.7 L1656.0,164.6 L1725.0,164.6 L1739.4,163.1 L1755.0,160.7 L1827.9,150.8 L1834.4,149.5 L1870.3,149.5" stroke="#fade2a"/><path d="M1037.3,262.1 L1051.6,260.2 L1071.9,256.6 L1080.3,254.2 L1094.7,250.6 L1130.6,245.3 L1152.1,243.4 L1183.3,238.6 L1202.4,235.7 L1255.1,231.9 L1269.5,229.0 L1317.4,224.7 L1338.9,222.6 L1365.3,219.4 L1370.0,218.0 L1381.0,218.0 L1384.6,174.0 L1406.0,173.1 L1476.4,170.0 L1549.3,167.3 L1619.6,165.3 L1656.0,164.2 L1725.0,164.2 L1739.4,162.7 L1755.0,160.3 L1827.9,150.4 L1834.4,149.1 L1870.3,149.1" stroke="#8ab8ff"/></g><rect x="1013.5" y="384" width="14" height="4" rx="1" fill="#73bf69"/><text x="1036.0" y="390.0" font-size="12" fill="#ccccdc" text-anchor="start" font-weight="normal" textLength="165" lengthAdjust="spacingAndGlyphs" stroke="#ccccdc" stroke-width="0.3">{instance=&quot;10.0.0.101:19100&quot;}</text><rect x="1211.0" y="384" width="14" height="4" rx="1" fill="#fade2a"/><text x="1233.5" y="390.0" font-size="12" fill="#ccccdc" text-anchor="start" font-weight="normal" textLength="165" lengthAdjust="spacingAndGlyphs" stroke="#ccccdc" stroke-width="0.3">{instance=&quot;10.0.0.102:19100&quot;}</text><rect x="1408.5" y="384" width="14" height="4" rx="1" fill="#8ab8ff"/><text x="1431.0" y="390.0" font-size="12" fill="#ccccdc" text-anchor="start" font-weight="normal" textLength="158" lengthAdjust="spacingAndGlyphs" stroke="#ccccdc" stroke-width="0.3">{instance=&quot;10.0.0.102:9100&quot;}</text></svg>
<svg width="1920" height="835" viewBox="0 0 1920 835" style="left:0;top:0"><text x="522" y="395" font-size="14" fill="#d8d9e0" text-anchor="middle" font-weight="normal" textLength="289.5" lengthAdjust="spacingAndGlyphs" stroke="#d8d9e0" stroke-width="0.3"><tspan font-size="12.6">老男孩</tspan>IT<tspan font-size="12.6">教育</tspan>-<tspan font-size="12.6">计算</tspan>CPU<tspan font-size="12.6">内核态的</tspan>1<tspan font-size="12.6">分钟内百分比</tspan></text><path d="M85,449.5 H946" stroke="rgba(240,250,255,0.09)" stroke-width="1"/><text x="79.7" y="452.1" font-size="12" fill="#c7c8d2" text-anchor="end" font-weight="normal" stroke="#c7c8d2" stroke-width="0.35">6</text><path d="M85,505.5 H946" stroke="rgba(240,250,255,0.09)" stroke-width="1"/><text x="79.7" y="508.1" font-size="12" fill="#c7c8d2" text-anchor="end" font-weight="normal" stroke="#c7c8d2" stroke-width="0.35">4</text><path d="M85,562.5 H946" stroke="rgba(240,250,255,0.09)" stroke-width="1"/><text x="79.7" y="565.1" font-size="12" fill="#c7c8d2" text-anchor="end" font-weight="normal" stroke="#c7c8d2" stroke-width="0.35">2</text><path d="M85,618.5 H946" stroke="rgba(240,250,255,0.09)" stroke-width="1"/><text x="79.7" y="621.1" font-size="12" fill="#c7c8d2" text-anchor="end" font-weight="normal" stroke="#c7c8d2" stroke-width="0.35">0</text><path d="M114.5,432 V623" stroke="rgba(240,250,255,0.09)" stroke-width="1"/><text x="114.5" y="636" font-size="12" fill="#c7c8d2" text-anchor="middle" font-weight="normal" stroke="#c7c8d2" stroke-width="0.35">12:00</text><path d="M185.5,432 V623" stroke="rgba(240,250,255,0.09)" stroke-width="1"/><text x="185.5" y="636" font-size="12" fill="#c7c8d2" text-anchor="middle" font-weight="normal" stroke="#c7c8d2" stroke-width="0.35">12:05</text><path d="M257.5,432 V623" stroke="rgba(240,250,255,0.09)" stroke-width="1"/><text x="257.5" y="636" font-size="12" fill="#c7c8d2" text-anchor="middle" font-weight="normal" stroke="#c7c8d2" stroke-width="0.35">12:10</text><path d="M328.5,432 V623" stroke="rgba(240,250,255,0.09)" stroke-width="1"/><text x="328.5" y="636" font-size="12" fill="#c7c8d2" text-anchor="middle" font-weight="normal" stroke="#c7c8d2" stroke-width="0.35">12:15</text><path d="M399.5,432 V623" stroke="rgba(240,250,255,0.09)" stroke-width="1"/><text x="399.5" y="636" font-size="12" fill="#c7c8d2" text-anchor="middle" font-weight="normal" stroke="#c7c8d2" stroke-width="0.35">12:20</text><path d="M471.5,432 V623" stroke="rgba(240,250,255,0.09)" stroke-width="1"/><text x="471.5" y="636" font-size="12" fill="#c7c8d2" text-anchor="middle" font-weight="normal" stroke="#c7c8d2" stroke-width="0.35">12:25</text><path d="M542.5,432 V623" stroke="rgba(240,250,255,0.09)" stroke-width="1"/><text x="542.5" y="636" font-size="12" fill="#c7c8d2" text-anchor="middle" font-weight="normal" stroke="#c7c8d2" stroke-width="0.35">12:30</text><path d="M614.5,432 V623" stroke="rgba(240,250,255,0.09)" stroke-width="1"/><text x="614.5" y="636" font-size="12" fill="#c7c8d2" text-anchor="middle" font-weight="normal" stroke="#c7c8d2" stroke-width="0.35">12:35</text><path d="M685.5,432 V623" stroke="rgba(240,250,255,0.09)" stroke-width="1"/><text x="685.5" y="636" font-size="12" fill="#c7c8d2" text-anchor="middle" font-weight="normal" stroke="#c7c8d2" stroke-width="0.35">12:40</text><path d="M756.5,432 V623" stroke="rgba(240,250,255,0.09)" stroke-width="1"/><text x="756.5" y="636" font-size="12" fill="#c7c8d2" text-anchor="middle" font-weight="normal" stroke="#c7c8d2" stroke-width="0.35">12:45</text><path d="M828.5,432 V623" stroke="rgba(240,250,255,0.09)" stroke-width="1"/><text x="828.5" y="636" font-size="12" fill="#c7c8d2" text-anchor="middle" font-weight="normal" stroke="#c7c8d2" stroke-width="0.35">12:50</text><path d="M899.5,432 V623" stroke="rgba(240,250,255,0.09)" stroke-width="1"/><text x="899.5" y="636" font-size="12" fill="#c7c8d2" text-anchor="middle" font-weight="normal" stroke="#c7c8d2" stroke-width="0.35">12:55</text><g fill="none" stroke-width="1" stroke-linejoin="round"><path d="M90.2,605.5 L99.9,606.5 L112.5,604.4 L121.7,604.7 L124.5,605.9 L128.5,604.4 L135.4,606.5 L149.2,606.2 L153.8,605.3 L164.1,607.6 L170.9,604.4 L176.7,605.3 L188.1,606.2 L195.0,604.4 L204.2,604.7 L210.5,606.5 L217.9,603.6 L223.7,602.4 L229.4,604.7 L232.8,603.3 L239.7,605.5 L243.1,604.4 L256.9,604.4 L268.3,606.2 L271.8,605.3 L284.4,607.4 L290.1,606.2 L295.8,607.6 L300.0,607.6 L306.9,606.5 L321.8,606.2 L324.6,604.4 L328.1,605.5 L332.7,603.3 L337.8,603.3 L343.0,604.4 L345.8,604.4 L349.3,602.4 L358.4,600.2 L364.2,602.4 L368.8,603.6 L372.2,604.7 L380.2,605.5 L389.4,603.3 L395.1,604.4 L404.3,604.4 L407.7,605.9 L411.1,604.4 L415.7,605.5 L422.6,604.4 L428.3,602.4 L432.9,604.4 L435.8,603.3 L443.2,605.3 L449.0,606.5 L453.5,604.4 L460.4,605.5 L467.3,603.3 L474.7,601.3 L481.0,603.3 L489.1,606.5 L493.7,605.9 L500.5,604.4 L506.3,605.3 L510.8,606.5 L514.3,605.5 L515.0,605.5 L521.9,606.5 L529.9,606.2 L535.6,603.6 L542.5,602.4 L545.9,603.6 L549.4,606.5 L556.3,605.1 L560.8,604.2 L564.3,602.4 L567.7,604.7 L572.3,603.3 L579.2,604.2 L586.0,604.4 L592.9,601.3 L599.8,601.3 L604.4,603.3 L607.8,603.3 L610.7,599.6 L617.7,449.3 L624.3,452.0 L632.4,602.5 L635.3,604.4 L642.2,605.5 L645.6,604.4 L649.6,601.3 L657.1,601.3 L664.0,605.5 L667.4,604.4 L671.4,606.7 L677.7,603.3 L682.3,604.4 L692.6,601.3 L702.9,602.4 L707.5,604.7 L714.4,603.6 L721.3,604.7 L724.7,605.5 L728.1,603.6 L732.2,603.3 L735.8,604.5 L746.6,604.5 L751.1,602.0 L754.7,601.2 L760.0,600.2 L764.5,604.5 L767.2,604.5" stroke="#73bf69"/><path d="M90.2,569.6 L95.9,571.2 L99.7,574.4 L103.3,571.5 L107.3,570.4 L110.8,568.1 L114.2,570.0 L117.7,573.5 L121.7,570.4 L124.5,571.5 L128.5,568.6 L132.0,564.1 L135.4,558.1 L138.9,560.1 L143.4,560.4 L149.2,563.5 L153.8,559.3 L157.2,562.9 L160.6,568.9 L167.5,572.7 L171.5,568.1 L175.5,570.4 L179.0,570.7 L182.4,577.2 L185.3,571.2 L191.6,570.4 L196.1,568.4 L199.6,573.5 L203.6,569.6 L213.9,568.6 L217.3,572.7 L221.4,567.5 L227.1,568.1 L231.7,566.6 L235.1,567.5 L239.1,563.5 L244.8,564.1 L249.4,571.5 L253.4,566.9 L257.5,569.6 L261.5,564.3 L264.9,564.6 L268.9,568.1 L271.2,563.5 L278.7,565.4 L282.1,567.5 L285.5,574.9 L289.5,570.7 L293.0,574.1 L295.8,574.4 L299.3,579.5 L300.0,582.4 L303.4,572.1 L307.4,570.4 L310.9,571.5 L314.3,575.5 L318.3,571.5 L322.3,565.2 L324.6,565.0 L328.6,570.4 L332.1,567.5 L335.5,572.7 L339.5,565.4 L343.0,569.6 L346.4,562.9 L349.3,569.6 L353.3,564.6 L357.3,570.4 L360.7,566.6 L363.6,568.1 L370.5,575.5 L374.5,571.5 L382.5,571.2 L385.4,577.2 L389.4,564.6 L395.7,564.6 L399.1,572.7 L403.1,569.6 L408.9,571.5 L414.6,575.5 L421.5,568.1 L427.2,566.6 L432.3,554.9 L435.8,557.8 L439.8,553.5 L446.1,563.5 L453.5,569.6 L457.6,561.8 L463.9,558.6 L467.9,565.2 L471.9,564.6 L481.0,568.6 L485.6,573.5 L489.6,565.8 L495.9,565.4 L503.4,573.2 L508.0,569.2 L516.7,571.5 L519.6,567.5 L527.6,564.6 L532.2,562.3 L535.6,567.5 L539.6,564.3 L544.8,568.6 L549.4,569.2 L553.4,572.7 L560.3,567.5 L566.6,568.6 L571.1,570.9 L574.6,566.9 L578.0,568.1 L582.0,565.2 L585.5,571.5 L589.5,564.3 L592.9,566.9 L596.4,566.6 L599.8,570.4 L603.8,577.2 L609.0,572.7 L614.7,568.1 L617.6,566.4 L621.6,571.5 L625.0,565.4 L628.4,567.3 L631.9,567.3 L635.3,573.2 L639.3,568.6 L642.8,572.3 L646.8,569.8 L653.7,574.4 L659.4,567.5 L664.0,566.9 L667.4,563.5 L671.4,572.7 L674.8,564.3 L678.9,566.6 L683.4,564.6 L685.7,567.5 L696.0,560.4 L703.5,568.4 L709.8,565.8 L716.7,568.6 L721.3,573.5 L724.7,565.8 L729.3,567.5 L731.3,565.1 L738.9,570.1 L742.1,563.8 L746.6,560.5 L749.7,561.6 L752.9,567.4 L756.5,570.1 L759.6,576.4 L764.1,581.8 L767.4,592.3" stroke="#fade2a"/><path d="M90.2,569.6 L95.9,571.2 L99.7,574.4 L103.3,571.5 L107.3,570.4 L110.8,568.1 L114.2,570.0 L117.7,573.5 L121.7,570.4 L124.5,571.5 L128.5,568.6 L132.0,564.1 L135.4,558.1 L138.9,560.1 L143.4,560.4 L149.2,563.5 L153.8,559.3 L157.2,562.9 L160.6,568.9 L167.5,572.7 L171.5,568.1 L175.5,570.4 L179.0,570.7 L182.4,572.7 L185.3,571.2 L191.6,570.4 L196.1,568.4 L199.6,573.5 L203.6,569.6 L213.9,568.6 L217.3,572.7 L221.4,567.5 L227.1,568.1 L231.7,566.6 L235.1,567.5 L239.1,563.5 L244.8,564.1 L249.4,571.5 L253.4,566.9 L257.5,569.6 L261.5,564.3 L264.9,564.6 L268.9,568.1 L271.8,568.6 L278.7,565.4 L282.1,567.5 L285.5,579.5 L289.5,570.7 L293.0,574.1 L295.8,574.4 L299.3,583.3 L300.0,582.4 L303.4,572.1 L307.4,570.4 L310.9,571.5 L314.3,575.5 L318.3,571.5 L322.3,565.2 L324.6,565.0 L328.6,570.4 L332.1,567.5 L335.5,572.7 L339.5,565.4 L343.0,569.6 L346.4,562.9 L348.1,564.6 L352.7,563.5 L357.3,570.4 L360.7,566.6 L363.6,568.1 L370.5,575.5 L374.5,571.5 L382.5,571.2 L384.8,574.4 L389.4,564.6 L395.7,564.6 L399.7,569.2 L403.7,573.2 L408.9,571.5 L416.3,573.8 L421.5,568.1 L427.2,566.6 L432.3,554.9 L435.8,557.8 L439.8,553.5 L446.1,563.5 L453.5,569.6 L457.6,561.8 L463.9,558.6 L467.9,565.2 L471.9,564.6 L481.0,568.6 L485.6,573.5 L489.6,565.8 L495.9,565.4 L503.4,573.2 L508.0,569.2 L515.0,570.0 L519.6,567.5 L527.6,564.6 L532.2,562.3 L535.6,567.5 L539.6,564.3 L544.8,568.6 L549.4,569.2 L553.4,572.7 L560.3,567.5 L566.6,568.6 L571.1,574.4 L574.6,566.9 L578.0,568.1 L582.0,565.2 L585.5,571.5 L589.5,564.3 L592.9,566.9 L596.4,566.6 L599.8,570.4 L603.8,577.2 L609.0,572.7 L614.7,568.1 L617.6,566.4 L621.6,570.9 L625.0,565.4 L628.4,567.3 L631.9,567.3 L635.3,573.2 L639.3,568.6 L642.8,572.3 L646.8,569.8 L653.7,574.4 L659.4,567.5 L664.0,566.9 L667.4,563.5 L671.4,572.7 L674.8,564.3 L678.9,566.6 L683.4,564.6 L686.9,564.1 L696.0,560.4 L703.5,568.4 L709.8,565.8 L715.0,567.3 L721.3,573.5 L724.7,565.8 L729.3,567.5 L731.3,565.1 L738.9,570.1 L742.1,563.8 L746.6,560.5 L749.7,561.6 L752.9,567.4 L756.5,570.1 L759.6,576.4 L764.1,581.8 L767.2,591.2" stroke="#8ab8ff"/></g><rect x="88.75" y="650" width="14" height="4" rx="1" fill="#73bf69"/><text x="111.25" y="656.0" font-size="12" fill="#ccccdc" text-anchor="start" font-weight="normal" textLength="165" lengthAdjust="spacingAndGlyphs" stroke="#ccccdc" stroke-width="0.3">{instance=&quot;10.0.0.101:19100&quot;}</text><rect x="286.25" y="650" width="14" height="4" rx="1" fill="#fade2a"/><text x="308.75" y="656.0" font-size="12" fill="#ccccdc" text-anchor="start" font-weight="normal" textLength="165" lengthAdjust="spacingAndGlyphs" stroke="#ccccdc" stroke-width="0.3">{instance=&quot;10.0.0.102:19100&quot;}</text><rect x="483.75" y="650" width="14" height="4" rx="1" fill="#8ab8ff"/><text x="506.25" y="656.0" font-size="12" fill="#ccccdc" text-anchor="start" font-weight="normal" textLength="158" lengthAdjust="spacingAndGlyphs" stroke="#ccccdc" stroke-width="0.3">{instance=&quot;10.0.0.102:9100&quot;}</text></svg>
<svg width="1920" height="835" viewBox="0 0 1920 835" style="left:0;top:0"><text x="1446" y="433.5" font-size="14" fill="#d8d9e0" text-anchor="middle" font-weight="normal" textLength="289.5" lengthAdjust="spacingAndGlyphs" stroke="#d8d9e0" stroke-width="0.3"><tspan font-size="12.6">老男孩</tspan>IT<tspan font-size="12.6">教育</tspan>-<tspan font-size="12.6">计算</tspan>CPU<tspan font-size="12.6">用户态的</tspan>1<tspan font-size="12.6">分钟内百分比</tspan></text><path d="M1009,491.5 H1870" stroke="rgba(240,250,255,0.09)" stroke-width="1"/><text x="1003.8" y="494.1" font-size="12" fill="#c7c8d2" text-anchor="end" font-weight="normal" stroke="#c7c8d2" stroke-width="0.35">4</text><path d="M1009,532.5 H1870" stroke="rgba(240,250,255,0.09)" stroke-width="1"/><text x="1003.8" y="535.1" font-size="12" fill="#c7c8d2" text-anchor="end" font-weight="normal" stroke="#c7c8d2" stroke-width="0.35">3</text><path d="M1009,573.5 H1870" stroke="rgba(240,250,255,0.09)" stroke-width="1"/><text x="1003.8" y="576.1" font-size="12" fill="#c7c8d2" text-anchor="end" font-weight="normal" stroke="#c7c8d2" stroke-width="0.35">2</text><path d="M1009,614.5 H1870" stroke="rgba(240,250,255,0.09)" stroke-width="1"/><text x="1003.8" y="617.1" font-size="12" fill="#c7c8d2" text-anchor="end" font-weight="normal" stroke="#c7c8d2" stroke-width="0.35">1</text><path d="M1009,656.5 H1870" stroke="rgba(240,250,255,0.09)" stroke-width="1"/><text x="1003.8" y="659.1" font-size="12" fill="#c7c8d2" text-anchor="end" font-weight="normal" stroke="#c7c8d2" stroke-width="0.35">0</text><path d="M1038.5,470 V660" stroke="rgba(240,250,255,0.09)" stroke-width="1"/><text x="1038.5" y="674" font-size="12" fill="#c7c8d2" text-anchor="middle" font-weight="normal" stroke="#c7c8d2" stroke-width="0.35">12:00</text><path d="M1109.5,470 V660" stroke="rgba(240,250,255,0.09)" stroke-width="1"/><text x="1109.5" y="674" font-size="12" fill="#c7c8d2" text-anchor="middle" font-weight="normal" stroke="#c7c8d2" stroke-width="0.35">12:05</text><path d="M1181.5,470 V660" stroke="rgba(240,250,255,0.09)" stroke-width="1"/><text x="1181.5" y="674" font-size="12" fill="#c7c8d2" text-anchor="middle" font-weight="normal" stroke="#c7c8d2" stroke-width="0.35">12:10</text><path d="M1252.5,470 V660" stroke="rgba(240,250,255,0.09)" stroke-width="1"/><text x="1252.5" y="674" font-size="12" fill="#c7c8d2" text-anchor="middle" font-weight="normal" stroke="#c7c8d2" stroke-width="0.35">12:15</text><path d="M1323.5,470 V660" stroke="rgba(240,250,255,0.09)" stroke-width="1"/><text x="1323.5" y="674" font-size="12" fill="#c7c8d2" text-anchor="middle" font-weight="normal" stroke="#c7c8d2" stroke-width="0.35">12:20</text><path d="M1395.5,470 V660" stroke="rgba(240,250,255,0.09)" stroke-width="1"/><text x="1395.5" y="674" font-size="12" fill="#c7c8d2" text-anchor="middle" font-weight="normal" stroke="#c7c8d2" stroke-width="0.35">12:25</text><path d="M1466.5,470 V660" stroke="rgba(240,250,255,0.09)" stroke-width="1"/><text x="1466.5" y="674" font-size="12" fill="#c7c8d2" text-anchor="middle" font-weight="normal" stroke="#c7c8d2" stroke-width="0.35">12:30</text><path d="M1538.5,470 V660" stroke="rgba(240,250,255,0.09)" stroke-width="1"/><text x="1538.5" y="674" font-size="12" fill="#c7c8d2" text-anchor="middle" font-weight="normal" stroke="#c7c8d2" stroke-width="0.35">12:35</text><path d="M1609.5,470 V660" stroke="rgba(240,250,255,0.09)" stroke-width="1"/><text x="1609.5" y="674" font-size="12" fill="#c7c8d2" text-anchor="middle" font-weight="normal" stroke="#c7c8d2" stroke-width="0.35">12:40</text><path d="M1680.5,470 V660" stroke="rgba(240,250,255,0.09)" stroke-width="1"/><text x="1680.5" y="674" font-size="12" fill="#c7c8d2" text-anchor="middle" font-weight="normal" stroke="#c7c8d2" stroke-width="0.35">12:45</text><path d="M1752.5,470 V660" stroke="rgba(240,250,255,0.09)" stroke-width="1"/><text x="1752.5" y="674" font-size="12" fill="#c7c8d2" text-anchor="middle" font-weight="normal" stroke="#c7c8d2" stroke-width="0.35">12:50</text><path d="M1823.5,470 V660" stroke="rgba(240,250,255,0.09)" stroke-width="1"/><text x="1823.5" y="674" font-size="12" fill="#c7c8d2" text-anchor="middle" font-weight="normal" stroke="#c7c8d2" stroke-width="0.35">12:55</text><g fill="none" stroke-width="1" stroke-linejoin="round"><path d="M1013.7,643.5 L1030.9,643.5 L1034.9,642.4 L1038.9,643.5 L1045.2,642.4 L1048.7,643.5 L1073.3,643.5 L1077.3,641.2 L1081.3,642.4 L1088.8,642.6 L1091.6,643.8 L1106.5,643.8 L1110.0,642.4 L1121.4,642.6 L1123.7,643.5 L1134.0,643.5 L1140.9,640.5 L1147.2,640.5 L1152.4,643.8 L1157.0,642.6 L1161.5,641.7 L1166.1,640.5 L1170.7,641.5 L1174.2,640.5 L1178.7,640.5 L1182.2,642.6 L1185.6,641.2 L1191.3,642.6 L1195.9,641.2 L1199.4,642.6 L1203.9,641.2 L1208.5,641.7 L1213.1,643.5 L1223.0,643.5 L1231.6,643.5 L1237.9,641.5 L1241.3,641.2 L1245.9,639.4 L1252.8,639.4 L1263.1,642.6 L1266.0,641.2 L1278.0,641.2 L1281.4,640.3 L1288.3,640.3 L1294.6,642.6 L1298.6,642.6 L1303.2,641.2 L1308.9,640.3 L1313.5,641.5 L1319.3,642.6 L1335.3,642.6 L1338.7,643.8 L1342.2,642.6 L1347.9,643.8 L1352.5,641.2 L1355.9,642.6 L1359.9,640.3 L1365.1,640.5 L1368.5,641.5 L1370.8,640.5 L1374.3,641.5 L1377.7,640.3 L1382.3,640.3 L1388.0,638.3 L1393.7,640.3 L1401.8,641.2 L1409.8,641.5 L1413.2,640.3 L1417.8,641.5 L1423.5,640.3 L1428.1,641.5 L1435.0,641.5 L1438.0,642.6 L1444.9,641.5 L1452.9,640.5 L1456.3,641.5 L1459.8,640.5 L1477.0,640.5 L1481.5,641.5 L1485.0,640.5 L1490.7,642.6 L1502.2,640.5 L1509.0,639.4 L1514.2,637.4 L1520.5,637.4 L1527.4,643.2 L1532.0,644.7 L1534.3,643.5 L1534.8,643.5 L1541.6,488.2 L1548.5,486.3 L1556.6,637.5 L1561.8,640.5 L1568.6,641.5 L1573.2,640.5 L1577.8,641.2 L1584.7,638.3 L1588.1,640.3 L1591.5,639.4 L1595.6,641.5 L1602.4,635.2 L1608.7,636.3 L1612.2,637.4 L1617.3,641.5 L1620.2,641.5 L1627.1,637.4 L1633.9,637.4 L1641.4,639.5 L1648.6,637.4 L1652.2,637.4 L1659.4,639.5 L1664.8,637.9 L1670.6,635.3 L1677.3,638.8 L1680.5,637.4 L1684.5,640.6 L1688.6,638.3 L1691.3,639.5" stroke="#73bf69"/><path d="M1013.7,604.6 L1017.2,602.3 L1020.0,603.1 L1023.5,609.4 L1027.5,603.4 L1031.5,607.3 L1034.9,605.4 L1038.4,606.2 L1041.2,610.5 L1045.2,604.6 L1048.7,605.7 L1052.7,603.1 L1056.1,596.8 L1059.6,587.0 L1063.6,589.3 L1067.0,589.7 L1070.4,592.2 L1073.9,597.3 L1077.3,590.5 L1081.3,592.8 L1084.2,603.6 L1091.1,610.3 L1095.7,604.6 L1103.1,605.4 L1106.5,612.2 L1108.8,603.6 L1115.7,603.6 L1119.7,603.1 L1123.2,609.4 L1127.2,601.9 L1131.2,602.5 L1134.6,598.5 L1138.1,598.5 L1141.5,602.5 L1145.5,597.3 L1149.5,600.8 L1155.8,601.6 L1158.1,599.1 L1163.3,596.8 L1166.7,599.3 L1170.1,598.5 L1173.6,609.4 L1177.6,600.4 L1181.0,603.1 L1185.0,600.4 L1191.3,605.4 L1195.9,600.2 L1198.8,600.0 L1202.2,598.5 L1206.8,601.9 L1209.7,610.5 L1213.1,606.5 L1216.5,612.2 L1220.0,611.1 L1223.0,617.4 L1227.0,608.5 L1230.4,608.5 L1234.5,605.4 L1238.5,612.2 L1241.9,605.0 L1245.3,596.8 L1248.2,597.0 L1252.2,602.3 L1256.2,596.5 L1259.7,608.2 L1263.1,600.4 L1266.5,611.7 L1270.6,601.9 L1273.4,604.2 L1277.4,596.5 L1281.4,605.9 L1284.9,597.3 L1291.8,606.2 L1295.2,607.3 L1298.6,602.3 L1306.1,605.0 L1309.5,616.3 L1313.5,601.6 L1316.4,601.6 L1320.4,601.6 L1323.3,612.2 L1327.3,601.6 L1331.3,604.2 L1333.6,601.6 L1338.7,608.5 L1341.6,611.4 L1345.6,601.9 L1352.5,596.2 L1356.5,582.4 L1359.9,588.2 L1363.4,581.3 L1366.8,587.6 L1370.2,600.2 L1373.7,606.2 L1377.7,606.2 L1381.7,597.3 L1388.0,593.3 L1391.4,600.8 L1393.7,596.8 L1397.7,594.5 L1402.3,599.3 L1406.3,599.1 L1409.8,608.5 L1413.2,599.6 L1416.7,605.4 L1420.7,598.5 L1427.5,604.6 L1431.5,599.6 L1438.0,605.0 L1441.4,609.4 L1444.9,603.6 L1449.5,600.4 L1452.9,600.4 L1456.3,598.5 L1459.8,610.5 L1463.2,599.6 L1466.6,605.9 L1470.7,601.6 L1477.0,607.3 L1484.4,600.4 L1489.6,601.6 L1495.3,611.4 L1498.7,599.6 L1502.7,605.0 L1506.8,599.6 L1509.6,612.2 L1513.6,599.6 L1517.1,603.1 L1520.5,597.3 L1527.4,609.4 L1534.3,604.6 L1538.3,604.6 L1541.7,599.6 L1545.7,608.0 L1548.6,598.5 L1552.6,602.3 L1556.0,598.5 L1559.5,611.7 L1563.5,599.6 L1566.9,607.7 L1570.9,597.7 L1575.5,604.6 L1577.8,603.1 L1583.5,599.3 L1587.0,601.9 L1591.0,599.6 L1595.6,611.7 L1599.0,599.6 L1603.0,605.4 L1606.4,599.6 L1609.9,606.5 L1613.9,600.4 L1617.3,604.2 L1620.8,600.4 L1625.9,605.0 L1633.9,599.3 L1641.4,600.6 L1645.5,611.4 L1648.6,598.8 L1652.2,604.2 L1655.3,598.5 L1659.4,603.3 L1663.9,605.4 L1670.2,599.7 L1672.9,598.5 L1676.5,603.7 L1680.9,606.9 L1685.4,616.3 L1691.3,635.2" stroke="#fade2a"/><path d="M1013.7,604.6 L1017.2,602.3 L1020.0,603.1 L1023.5,609.4 L1027.5,603.4 L1031.5,607.3 L1034.9,605.4 L1038.4,606.2 L1041.2,610.5 L1045.2,604.6 L1048.7,605.7 L1052.7,603.1 L1056.1,596.8 L1059.6,587.0 L1063.6,589.3 L1067.0,589.7 L1070.4,592.2 L1073.9,597.3 L1077.3,590.5 L1081.3,592.8 L1084.2,603.6 L1091.1,610.3 L1095.7,604.6 L1103.1,605.4 L1106.0,605.7 L1108.8,603.6 L1115.7,603.6 L1119.7,603.1 L1123.2,609.4 L1127.2,601.9 L1131.2,602.5 L1134.6,598.5 L1138.1,598.5 L1141.5,602.5 L1145.5,597.3 L1149.5,600.8 L1155.8,601.6 L1159.3,604.6 L1163.3,597.7 L1166.7,599.3 L1170.1,598.5 L1173.6,609.4 L1177.6,600.4 L1181.6,606.5 L1185.0,600.4 L1191.3,606.2 L1194.8,606.2 L1198.8,600.0 L1202.2,598.5 L1206.8,601.9 L1209.7,616.8 L1213.1,606.5 L1216.5,612.2 L1220.0,611.1 L1223.0,623.1 L1227.0,608.5 L1230.4,608.5 L1234.5,605.4 L1238.5,612.2 L1241.9,605.0 L1245.3,596.8 L1248.2,597.0 L1252.2,602.3 L1256.2,596.5 L1259.7,608.2 L1263.1,600.4 L1266.5,611.7 L1270.6,601.9 L1273.4,601.6 L1277.4,596.5 L1281.4,605.9 L1284.9,597.3 L1291.8,606.2 L1295.2,607.3 L1298.6,602.3 L1306.1,605.0 L1309.5,612.8 L1313.5,601.6 L1317.0,603.1 L1320.4,601.6 L1323.8,605.9 L1327.3,609.4 L1331.3,604.2 L1335.3,602.3 L1338.2,602.5 L1341.6,611.4 L1345.6,601.9 L1352.5,596.2 L1356.5,582.4 L1359.9,588.2 L1363.4,581.3 L1366.8,587.6 L1370.2,600.2 L1373.7,606.2 L1377.7,606.2 L1381.7,597.3 L1388.0,593.3 L1391.4,600.8 L1397.7,594.5 L1402.3,599.3 L1406.3,599.1 L1409.8,608.5 L1413.2,599.6 L1416.7,605.4 L1420.7,598.5 L1427.5,604.6 L1431.5,599.6 L1438.0,605.0 L1444.9,603.6 L1449.5,600.4 L1452.9,600.4 L1456.3,598.5 L1459.8,610.5 L1463.2,599.6 L1466.6,605.9 L1470.7,601.6 L1477.0,607.3 L1484.4,600.4 L1489.6,601.6 L1495.3,611.4 L1498.7,599.6 L1502.7,605.0 L1506.8,599.6 L1509.6,612.2 L1513.6,599.6 L1517.1,603.1 L1520.5,597.3 L1527.4,609.4 L1534.3,604.6 L1538.3,604.6 L1541.7,599.6 L1545.7,608.0 L1548.6,598.5 L1552.6,602.3 L1556.0,598.5 L1559.5,611.1 L1563.5,599.6 L1566.9,607.7 L1570.9,597.7 L1574.4,602.7 L1577.8,603.1 L1583.5,599.3 L1587.0,601.9 L1591.0,599.6 L1595.6,611.7 L1599.0,599.6 L1603.0,605.4 L1606.4,599.6 L1609.9,605.9 L1613.9,600.4 L1617.3,604.2 L1620.8,600.4 L1624.2,606.2 L1627.6,606.2 L1633.9,599.3 L1641.4,600.6 L1645.5,611.4 L1648.6,598.8 L1652.2,604.2 L1655.3,598.5 L1659.4,603.3 L1663.9,605.4 L1670.2,599.7 L1676.5,605.1 L1680.9,606.9 L1685.4,616.3 L1691.3,635.2" stroke="#8ab8ff"/></g><rect x="1013.7" y="688" width="14" height="4" rx="1" fill="#73bf69"/><text x="1036.2" y="694.0" font-size="12" fill="#ccccdc" text-anchor="start" font-weight="normal" textLength="165" lengthAdjust="spacingAndGlyphs" stroke="#ccccdc" stroke-width="0.3">{instance=&quot;10.0.0.101:19100&quot;}</text><rect x="1211.2" y="688" width="14" height="4" rx="1" fill="#fade2a"/><text x="1233.7" y="694.0" font-size="12" fill="#ccccdc" text-anchor="start" font-weight="normal" textLength="165" lengthAdjust="spacingAndGlyphs" stroke="#ccccdc" stroke-width="0.3">{instance=&quot;10.0.0.102:19100&quot;}</text><rect x="1408.7" y="688" width="14" height="4" rx="1" fill="#8ab8ff"/><text x="1431.2" y="694.0" font-size="12" fill="#ccccdc" text-anchor="start" font-weight="normal" textLength="158" lengthAdjust="spacingAndGlyphs" stroke="#ccccdc" stroke-width="0.3">{instance=&quot;10.0.0.102:9100&quot;}</text></svg>
<svg width="1920" height="835" viewBox="0 0 1920 835" style="left:0;top:0"><defs>
<linearGradient id="tmg" x1="0.85" y1="0.1" x2="0.2" y2="0.9"><stop offset="0" stop-color="#2f7ff5"/><stop offset="1" stop-color="#64b8ff"/></linearGradient>
<filter id="tsh" x="-5%" y="-20%" width="110%" height="140%"><feGaussianBlur stdDeviation="1.5"/></filter>
</defs><rect x="0" y="0" width="1920" height="6" fill="#ffffff"/><rect x="0" y="6" width="1920" height="1" fill="#04050a"/><rect x="0" y="0" width="6" height="23" fill="#06d47f"/><rect x="1914" y="0" width="6" height="23" fill="#06d47f"/><rect x="1507" y="63" width="406" height="64" rx="2" fill="#050608" opacity="0.9" filter="url(#tsh)"/><rect x="1510" y="66" width="400" height="58" rx="2" fill="#22252b"/><path d="M1512,66 H1582 V124 H1512 A2,2 0 0 1 1510,122 V68 A2,2 0 0 1 1512,66 Z" fill="#1b7f4c"/><path d="M1539.5,94 L1544,98.6 L1552.5,90" fill="none" stroke="#ffffff" stroke-width="2" stroke-linecap="round" stroke-linejoin="round"/><text x="1598.2" y="100.2" font-size="14" fill="#d8d9e0" text-anchor="start" font-weight="bold" textLength="110.2" lengthAdjust="spacingAndGlyphs" >Dashboard saved</text><path d="M1884.8,86.8 L1893.2,95.2 M1893.2,86.8 L1884.8,95.2" stroke="#d8d9e0" stroke-width="1.6" stroke-linecap="round"/><rect x="46.5" y="0.5" width="317" height="75" fill="none" stroke="#fd3a3a" stroke-width="7"/><rect x="1503.5" y="61.5" width="258" height="83" fill="none" stroke="#fd3a3a" stroke-width="7"/><circle cx="1855.6" cy="177.4" r="25.5" fill="#ffffff"/><circle cx="1855.6" cy="177.4" r="22.5" fill="url(#tmg)"/><clipPath id="tmc"><circle cx="1855.6" cy="177.4" r="22.5"/></clipPath><path d="M1830,191.5 C1838,192.5 1846,195 1855,193.5 C1863,192 1870,189.5 1880,190 V205 H1830 Z" fill="#8fdcff" opacity="0.85" clip-path="url(#tmc)"/><path d="M1859,161.5 A17,17 0 0 1 1869.5,168" fill="none" stroke="#ffffff" stroke-width="1" opacity="0.7"/><text x="1855" y="182.6" font-size="14" fill="#ffffff" text-anchor="middle" font-weight="normal" textLength="33.5" lengthAdjust="spacingAndGlyphs" >10:04</text><rect x="1765" y="366" width="170" height="36" rx="4" fill="#2b2d31"/><rect x="1779.7" y="377" width="6.6" height="10.5" rx="3.3" fill="#0bcf60"/><path d="M1778.2,383.5 A4.8,4.8 0 0 0 1787.8,383.5 M1783,388.5 V390.5 M1780,391 H1786" fill="none" stroke="#8a8c90" stroke-width="1"/><rect x="1801" y="374" width="1" height="20" fill="#17181b"/><text x="1810" y="389.3" font-size="13" fill="#ffffff" text-anchor="start" font-weight="normal" textLength="93" lengthAdjust="spacingAndGlyphs" stroke="#ffffff" stroke-width="0.25"><tspan font-size="12.2">正在讲话</tspan>: <tspan font-size="12.2">尹正杰</tspan>;</text></svg>
</body></html>
